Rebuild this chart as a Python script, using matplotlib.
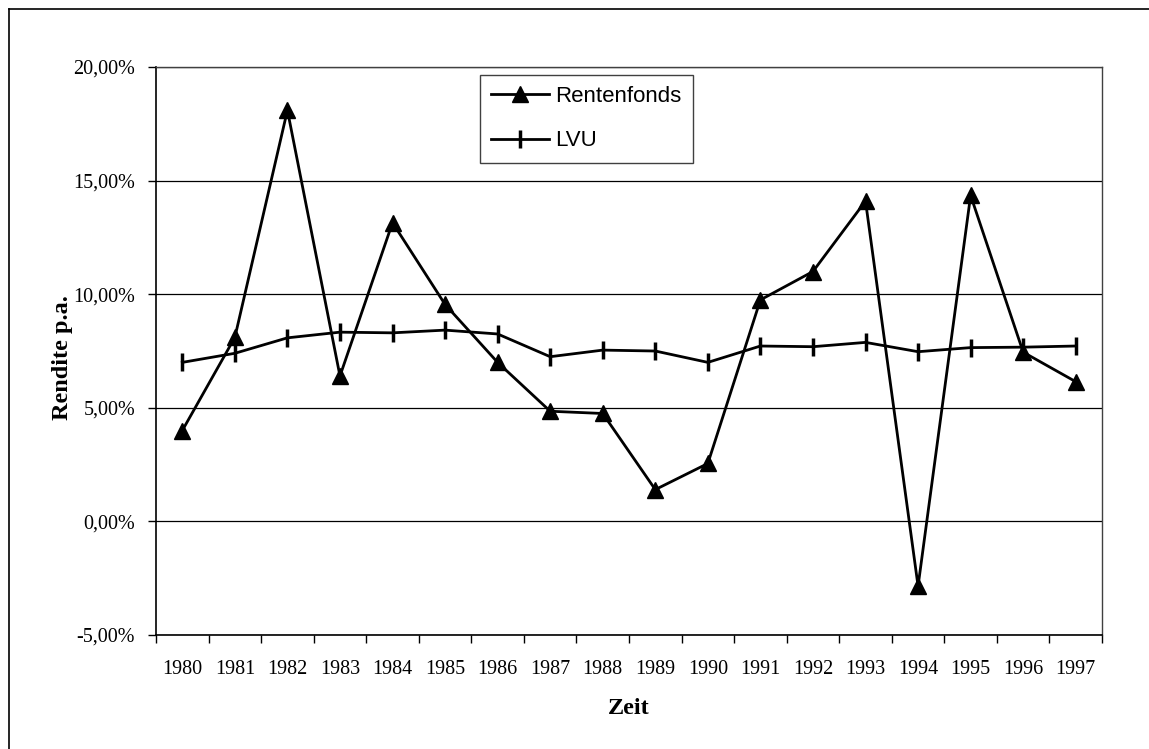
import matplotlib
matplotlib.use('Agg')
import matplotlib.pyplot as plt
from matplotlib.ticker import FuncFormatter, FixedLocator
from matplotlib.lines import Line2D
import numpy as np

# Data (annual returns in %)
years = [str(y) for y in range(1980, 1998)]
rentenfonds = [4.0, 8.1, 18.1, 6.4, 13.15, 9.55, 7.0, 4.85, 4.75, 1.4,
               2.55, 9.75, 11.0, 14.1, -2.85, 14.35, 7.45, 6.15]
lvu = [7.0, 7.4, 8.08, 8.33, 8.3, 8.42, 8.25, 7.25, 7.54, 7.5,
       7.0, 7.72, 7.69, 7.88, 7.47, 7.65, 7.67, 7.72]
y_ticks = [-5, 0, 5, 10, 15, 20]

serif = ['Liberation Serif', 'DejaVu Serif']
sans = ['Liberation Sans', 'DejaVu Sans']

fig = plt.figure(figsize=(11.49, 7.49), dpi=100)
ax = fig.add_axes([0.1358, 0.1522, 0.8233, 0.7583])

x = np.arange(len(years))
ax.plot(x, rentenfonds, color='black', lw=2, marker='^', markersize=11,
        label='Rentenfonds', zorder=3)
ax.plot(x, lvu, color='black', lw=2, marker='|', markersize=13,
        markeredgewidth=2.5, label='LVU', zorder=3)

ax.set_xlim(-0.5, len(years) - 0.5)
ax.set_ylim(-5, 20)

# y axis
ax.yaxis.set_major_locator(FixedLocator(y_ticks))
ax.yaxis.set_major_formatter(FuncFormatter(lambda v, p: f"{v:.2f}%".replace('.', ',')))
ax.grid(axis='y', color='black', lw=0.9)
ax.set_axisbelow(True)
ax.tick_params(axis='y', direction='out', length=6, width=1, pad=9, labelsize=14.5)

# x axis: labels centred, ticks between categories
ax.set_xticks(x)
ax.set_xticklabels(years)
ax.set_xticks(np.arange(-0.5, len(years)), minor=True)
ax.tick_params(axis='x', which='major', length=0, pad=18, labelsize=14.5)
ax.tick_params(axis='x', which='minor', direction='out', length=6, width=1)

for lab in ax.get_xticklabels() + ax.get_yticklabels():
    lab.set_family(serif)

for side in ['left', 'bottom']:
    ax.spines[side].set_color('black')
    ax.spines[side].set_linewidth(1.2)
for side in ['top', 'right']:
    ax.spines[side].set_color('#404040')
    ax.spines[side].set_linewidth(1)

ax.set_xlabel('Zeit', family=serif, fontweight='bold', fontsize=17.5)
ax.xaxis.set_label_coords(0.5, -0.111)
ax.set_ylabel('Rendite p.a.', family=serif, fontweight='bold', fontsize=17.5)
ax.yaxis.set_label_coords(-0.088, 0.489)

leg = ax.legend(loc='upper left', bbox_to_anchor=(0.4178, 0.8999),
                bbox_transform=fig.transFigure, borderaxespad=0,
                frameon=True, fancybox=False, framealpha=1,
                edgecolor='#404040', prop={'family': sans, 'size': 16},
                handlelength=2.6, handletextpad=0.3, labelspacing=1.05,
                borderpad=0.5)
leg.get_frame().set_linewidth(1)

# outer chart frame (top and left edges visible)
fig.add_artist(Line2D([9 / 1149, 1.0], [1 - 9 / 749, 1 - 9 / 749],
                      transform=fig.transFigure, color='black', lw=1.2))
fig.add_artist(Line2D([9 / 1149, 9 / 1149], [0.0, 1 - 9 / 749],
                      transform=fig.transFigure, color='black', lw=1.2))

fig.savefig('out.png', dpi=100, facecolor='white')
